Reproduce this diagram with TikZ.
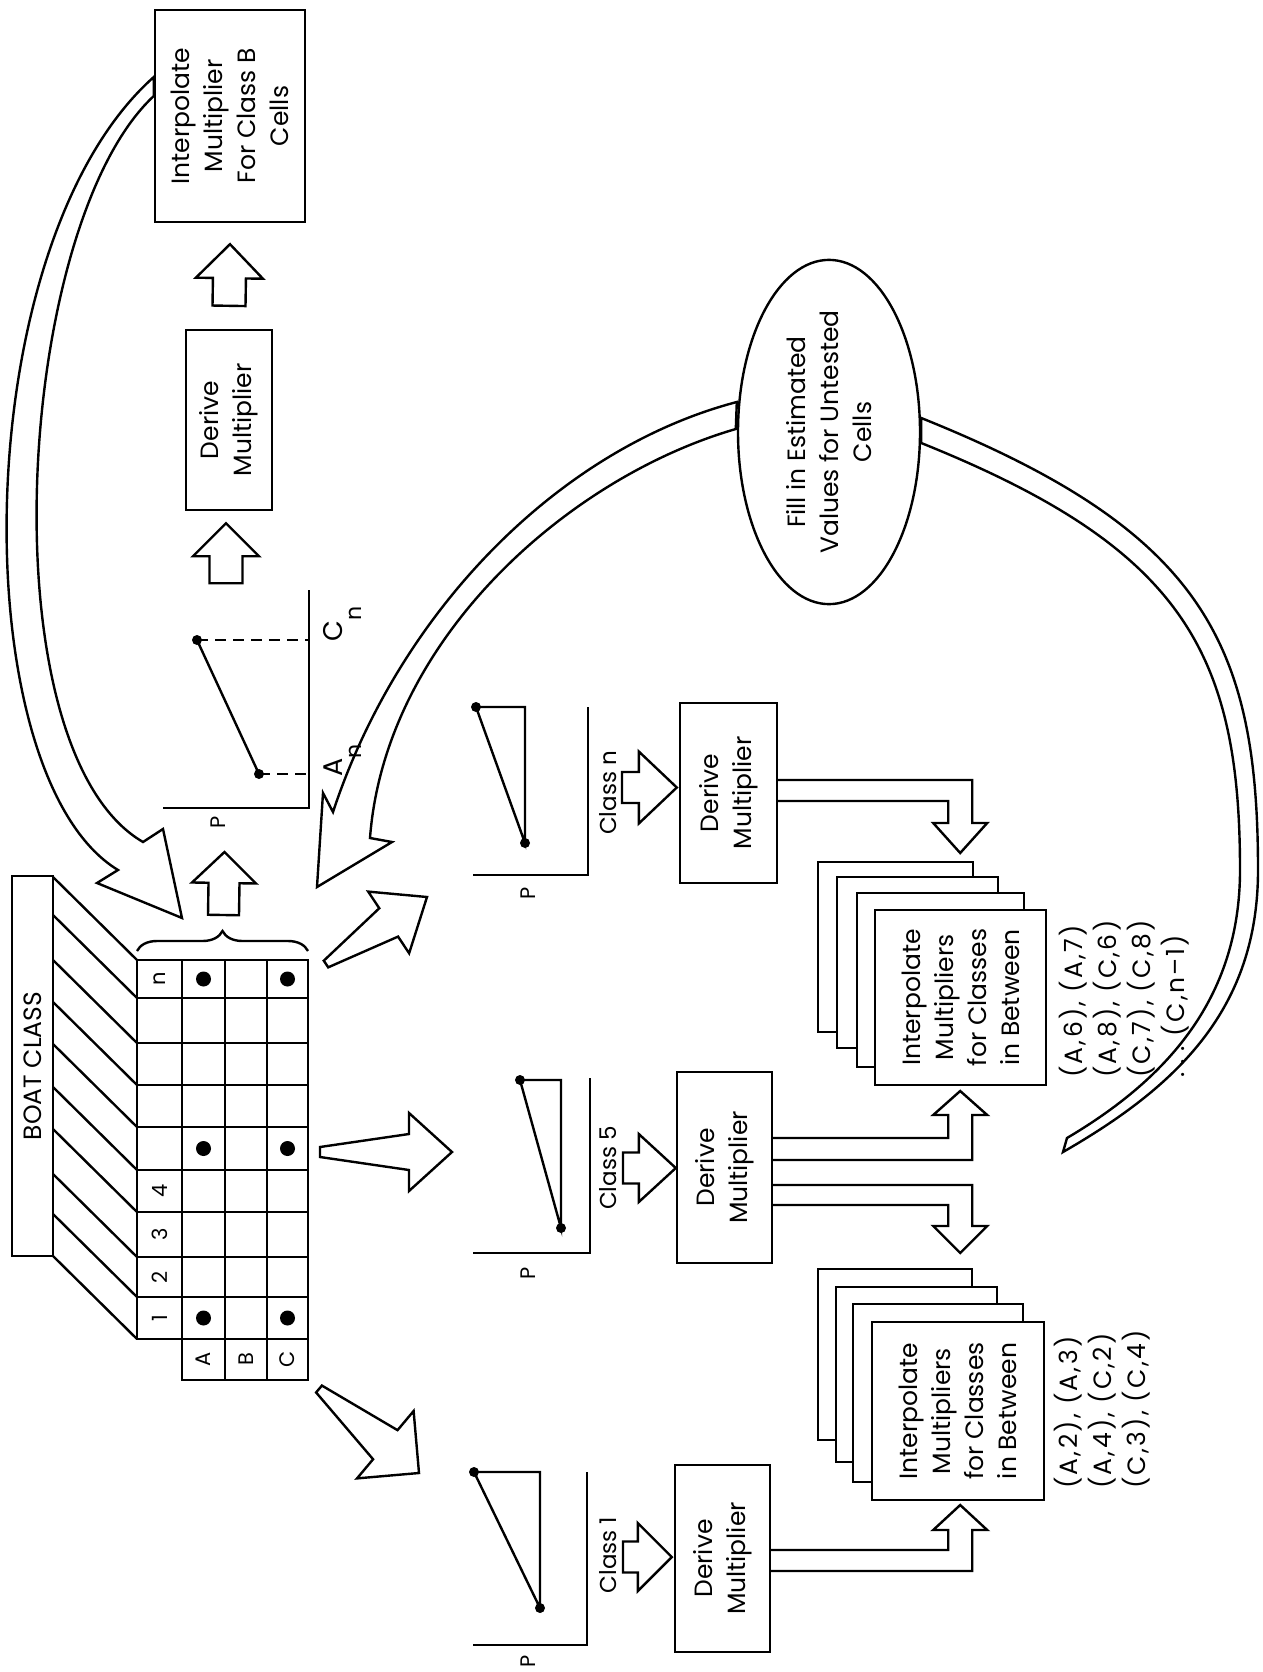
\documentclass[tikz,border=0pt]{standalone}
\usepackage{fontspec}
\setmainfont{Poppins}
\newfontfamily\listfont{Poppins}[LetterSpace=9]
\usetikzlibrary{calc,decorations.pathreplacing,shapes.geometric}
\pgfdeclarelayer{bg}
\pgfsetlayers{bg,main}
\newcommand\fsbox{\fontsize{25}{33}\selectfont}
\newcommand\fslab{\fontsize{23}{28}\selectfont}
\newcommand\fsgrid{\fontsize{21}{25}\selectfont}
\newcommand\fslist{\listfont\fontsize{25}{34}\selectfont}
\newcommand\blockarrow[6]{%
  \coordinate (bah) at ($(#2)!#6!(#1)$);
  \draw[fat] ($(#1)!#3!90:(#2)$) -- ($(bah)!#4!90:(#2)$) -- ($(bah)!#5!90:(#2)$) -- (#2)
    -- ($(bah)!#5!-90:(#2)$) -- ($(bah)!#4!-90:(#2)$) -- ($(#1)!#3!-90:(#2)$) -- cycle;}
\begin{document}
\begin{tikzpicture}[x=1pt,y=-1pt,line width=2.4pt,line join=miter,
  box/.style={draw,fill=white,rotate=90,align=center,inner sep=0pt,font=\fsbox},
  fat/.style={draw,fill=white,line width=2.4pt,line join=miter},
  lab/.style={rotate=90,inner sep=0pt,font=\fslab},
  glab/.style={rotate=90,inner sep=0pt,font=\fsgrid},
  dot/.style={fill,circle,inner sep=0pt,minimum size=#1},
  mydash/.style={dash pattern=on 11pt off 7pt}]
\useasboundingbox (0,0) rectangle (1262,1672);

% ---------- boxes ----------
\node[box,minimum width=212pt,minimum height=150pt] (clsB) at (230,116) {Interpolate\\Multiplier\\For Class B\\Cells};
\node[box,minimum width=180pt,minimum height=86pt] (der0) at (229,420) {Derive\\Multiplier};
\node[box,minimum width=180pt,minimum height=97pt] (dern) at (728.5,793) {Derive\\Multiplier};
\node[box,minimum width=191pt,minimum height=95pt] (der5) at (724.5,1167.5) {Derive\\Multiplier};
\node[box,minimum width=187pt,minimum height=95pt] (der1) at (722.5,1558.5) {Derive\\Multiplier};

\node[draw,fill=white,ellipse,rotate=90,minimum width=318pt,minimum height=182pt,inner sep=0pt,align=center,font=\fsbox] (fillnode) at (829,432) {Fill in Estimated\\Values for Untested\\Cells};

% upper stack
\draw[fill=white] (818,862) rectangle (973,1032);
\draw[fill=white] (837,877) rectangle (998,1048);
\draw[fill=white] (857,893) rectangle (1024,1067);
\node[box,minimum width=175pt,minimum height=171pt] (stU) at (960.5,997.5) {Interpolate\\Multipliers\\for Classes\\in Between};
% lower stack
\draw[fill=white] (818,1269) rectangle (972,1440);
\draw[fill=white] (836,1287) rectangle (997,1462);
\draw[fill=white] (853,1304) rectangle (1023,1482);
\node[box,minimum width=178pt,minimum height=172pt] (stL) at (958,1411) {Interpolate\\Multipliers\\for Classes\\in Between};

% lists
\node[rotate=90,anchor=north west,align=left,inner sep=0pt,font=\fslist] (listU) at (1058,1079) {(A,6), (A,7)\\(A,8), (C,6)\\(C,7), (C,8)\\{.}\hspace{8pt}{.}\hspace{8pt}{.}\hspace{10pt}(C,n\textendash1)};
\node[rotate=90,anchor=north west,align=left,inner sep=0pt,font=\fslist] (listL) at (1053,1490) {(A,2), (A,3)\\(A,4), (C,2)\\(C,3), (C,4)};

% ---------- boat class table ----------
\node[draw,fill=white,rotate=90,minimum width=380pt,minimum height=41pt,inner sep=0pt,font=\fsbox] (boat) at (32.5,1066) {BOAT CLASS};
\foreach \y in {960,998,1043,1085,1127,1170,1212,1257,1297,1339} {
  \draw (137,\y) -- (308,\y);
  \draw (53,{\y-83}) -- (137,\y);
}
\draw (137,960) rectangle (308,1339);
\draw (182,1339) rectangle (308,1380);
\foreach \x in {182,225,267} \draw (\x,960) -- (\x,1380);
\coordinate (gTL) at (137,960);
\node[glab] (rn) at (159.5,979) {n};
\node[glab] (r4) at (159.5,1191) {4};
\node[glab] (r3) at (159.5,1234.5) {3};
\node[glab] (r2) at (159.5,1277) {2};
\node[glab] (r1) at (159.5,1318) {1};
\node[glab] (cA) at (203.5,1359.5) {A};
\node[glab] (cB) at (246,1359.5) {B};
\node[glab] (cC) at (287.5,1359.5) {C};
\node[dot=15pt] (dAn) at (203.5,979) {};
\node[dot=15pt] (dCn) at (287.5,979) {};
\node[dot=15pt] (dA5) at (203.5,1148.5) {};
\node[dot=15pt] (dC5) at (287.5,1148.5) {};
\node[dot=15pt] (dA1) at (203.5,1318) {};
\node[dot=15pt] (dC1) at (287.5,1318) {};
\draw[decorate,decoration={brace,amplitude=20pt}] (137,951) -- (308,951);
\coordinate (brc) at (222.5,929);

% ---------- top plot ----------
\coordinate (tp0) at (309,808);
\draw (309,590) -- (tp0) -- (163,808);
\node[dot=10pt] (tpc) at (197,640) {};
\node[dot=10pt] (tpa) at (259,774) {};
\draw (tpc.center) -- (tpa.center);
\draw[mydash] (tpc.center) -- (309,640);
\draw[mydash] (tpa.center) -- (309,774);
\node[lab,anchor=base west,font=\fontsize{27}{30}\selectfont] (lcn) at (342,643) {C\raisebox{-19pt}{\fontsize{22}{22}\selectfont n}};
\node[lab,anchor=base west,font=\fontsize{27}{30}\selectfont] (lan) at (342,778) {A\raisebox{-19pt}{\fontsize{22}{22}\selectfont n}};
\node[lab,font=\fsgrid] (tpP) at (218,822) {P};

% ---------- class plots ----------
\draw (588,707) -- (588,875) -- (473,875);
\draw (476,707) -- (525,707) -- (525,843) -- cycle;
\node[dot=10pt] (pn1) at (476,707) {};
\node[dot=10pt] (pn2) at (525,843) {};
\node[lab,font=\fsgrid] (pnP) at (528,893) {P};
\node[lab] (lbn) at (608,793) {Class n};

\draw (590,1078) -- (590,1253) -- (473,1253);
\draw (520,1080) -- (561,1080) -- (561,1228) -- cycle;
\node[dot=10pt] (p51) at (520,1080) {};
\node[dot=10pt] (p52) at (561,1228) {};
\node[lab,font=\fsgrid] (p5P) at (528,1273) {P};
\node[lab] (lb5) at (608,1168) {Class 5};

\draw (587,1472) -- (587,1645) -- (473,1645);
\draw (474,1472) -- (540,1472) -- (540,1608) -- cycle;
\node[dot=10pt] (p11) at (474,1472) {};
\node[dot=10pt] (p12) at (540,1608) {};
\node[lab,font=\fsgrid] (p1P) at (528,1661) {P};
\node[lab] (lb1) at (608,1555) {Class 1};

% ---------- connectors (behind) ----------
\begin{pgfonlayer}{bg}
\fill[white] (0,0) rectangle (1262,1672);
% big arc from Class B box to table
\draw[fat] ($(clsB.north)+(0,-39)$) .. controls (-35,245) and (-37,776) .. (118,870)
  -- (97,883) -- (182,918) -- (163,829) -- (143,842)
  .. controls (-15,750) and (15,225) .. ($(clsB.north)+(0,-20)$) -- cycle;
% arc from ellipse to table
\draw[fat] ($(fillnode.north)+(0,-30)$) .. controls (558,449) and (399,612) .. (333,812)
  -- (323,793) -- (317,887) -- (392,842) -- (370,838)
  .. controls (385,640) and (567,478) .. ($(fillnode.north)+(-1,-3)$) -- cycle;
% arc from stacks to ellipse
\draw[fat] ($(fillnode.south)+(0,-14)$) .. controls (1200,530) and (1258,640) .. (1258,870)
  .. controls (1258,1010) and (1176,1087) .. (1063,1152) -- (1067,1138)
  .. controls (1165,1080) and (1240,1000) .. (1240,870)
  .. controls (1240,650) and (1180,547) .. ($(fillnode.south)+(0,11)$) -- cycle;

% vertical chain of block arrows
\coordinate (a1t) at ($(der0.east)+(0,-23)$);
\coordinate (a1h) at ($(clsB.west)+(0,21)$);
\blockarrow{a1t}{a1h}{16.5pt}{16.5pt}{33.5pt}{34pt}
\coordinate (a2t) at ($(der0.west)+(-3,72)$);
\coordinate (a2h) at ($(der0.west)+(-3,12)$);
\blockarrow{a2t}{a2h}{16.5pt}{16.5pt}{33pt}{33pt}
\coordinate (a3t) at ($(brc)+(1,-14)$);
\coordinate (a3h) at ($(brc)+(2,-77)$);
\blockarrow{a3t}{a3h}{15.5pt}{15.5pt}{32pt}{31pt}

% tapered arrows from the table
\coordinate (gnt) at (326,964);
\coordinate (gnh) at (427,897);
\blockarrow{gnt}{gnh}{4pt}{17pt}{37pt}{46pt}
\coordinate (g5t) at (320,1152);
\coordinate (g5h) at (452,1152);
\blockarrow{g5t}{g5h}{5pt}{18pt}{39pt}{43pt}
\coordinate (g1t) at (319,1389);
\coordinate (g1h) at (419,1473);
\blockarrow{g1t}{g1h}{4.5pt}{19pt}{44pt}{44pt}

% class arrows into derive boxes
\coordinate (cnt) at (622,787.5);
\coordinate (cnh) at ($(dern.north)+(-2,-5.5)$);
\blockarrow{cnt}{cnh}{15.5pt}{15.5pt}{36pt}{38pt}
\coordinate (c5t) at (623,1168);
\coordinate (c5h) at ($(der5.north)+(0,0.5)$);
\blockarrow{c5t}{c5h}{15.5pt}{15.5pt}{34pt}{37pt}
\coordinate (c1t) at (623,1557);
\coordinate (c1h) at ($(der1.north)+(-2,-1.5)$);
\blockarrow{c1t}{c1h}{15.5pt}{15.5pt}{34pt}{34pt}

% bent arrows from derive boxes to stacks
\draw[fat] ($(dern.south)+(0,-13)$) -- ++(194,0) -- ++(0,43) -- ++(15,0) -- ++(-27,30) -- ++(-27,-30) -- ++(15,0) -- ++(0,-22) -- ++(-170,0);
\draw[fat] ($(der5.south)+(0,-7.5)$) -- ++(199,0) -- ++(0,-45) -- ++(15,0) -- ++(-27,-24) -- ++(-27,24) -- ++(15,0) -- ++(0,23) -- ++(-175,0);
\draw[fat] ($(der5.south)+(0,17.5)$) -- ++(199,0) -- ++(0,41) -- ++(15,0) -- ++(-27,27) -- ++(-27,-27) -- ++(15,0) -- ++(0,-21) -- ++(-175,0);
\draw[fat] ($(der1.south)+(0,12.5)$) -- ++(201,0) -- ++(0,-41) -- ++(15,0) -- ++(-27,-25) -- ++(-27,25) -- ++(15,0) -- ++(0,20) -- ++(-177,0);
\end{pgfonlayer}
\end{tikzpicture}
\end{document}
